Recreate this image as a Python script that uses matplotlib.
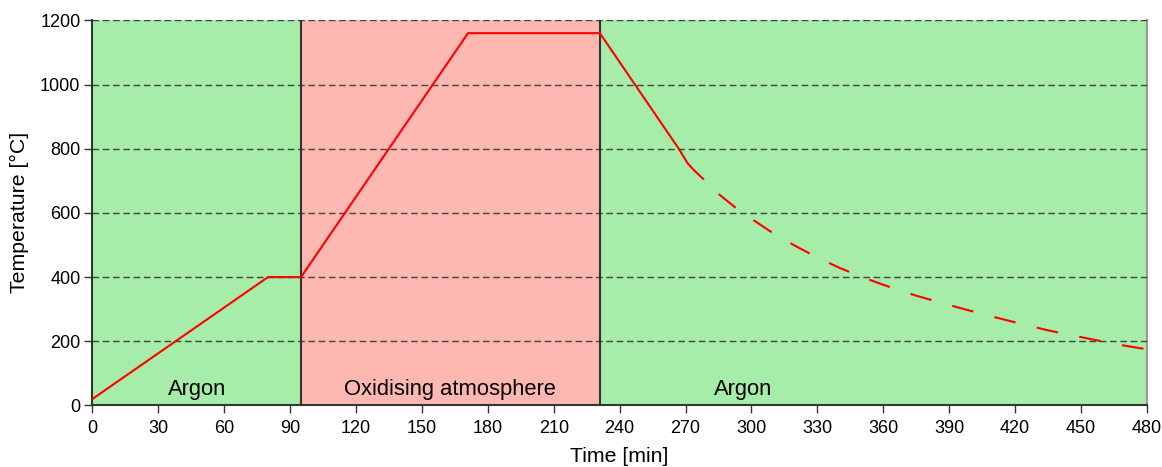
import matplotlib
matplotlib.use("Agg")
import matplotlib.pyplot as plt

plt.rcParams['font.family'] = ['Liberation Sans', 'DejaVu Sans']

# Atmosphere phases (start/end in minutes)
phase_edges = [0, 95, 231, 480]
phase_names = ["Argon", "Oxidising atmosphere", "Argon"]
phase_label_x = [47.5, 163, 296]
phase_colors = ['#a5eda8', '#ffb7b1', '#a5eda8']

# Heating program (controlled part)
ramp_time = [0, 80, 95, 171, 231, 267, 271, 274, 278]
ramp_temp = [20, 400, 400, 1160, 1160, 799, 754, 732, 706]

# Free cooling in argon
cool_time = [278, 285, 293, 301, 310, 320, 330, 340, 350, 360, 375, 390,
             405, 420, 435, 450, 465, 480]
cool_temp = [706, 659, 615, 577, 536, 497, 461, 429, 401, 376, 342, 313,
             285, 259, 234, 213, 192, 175]

x_ticks = list(range(0, 481, 30))
y_ticks = list(range(0, 1201, 200))

fig = plt.figure(figsize=(11.62, 4.67), dpi=100)
ax = fig.add_axes([0.0794, 0.1317, 0.9077, 0.8248])

for i, name in enumerate(phase_names):
    ax.axvspan(phase_edges[i], phase_edges[i + 1], color=phase_colors[i], lw=0, zorder=1)
    ax.text(phase_label_x[i], 32, name, ha='center', va='baseline', fontsize=15.8, zorder=4)

for edge in phase_edges[1:-1]:
    ax.axvline(edge, color='#333333', lw=1.5, zorder=2.6)

ax.plot(ramp_time, ramp_temp, color='red', lw=1.5, zorder=3)
# cooling curve starts with a gap, then dashes
ax.plot(cool_time, cool_temp, color='red', lw=1.5, zorder=3,
        linestyle=(10.5, (10.5, 10.4)))

ax.set_axisbelow(False)
ax.yaxis.grid(True, color='#444444', lw=1, linestyle=(0, (4.8, 2.6)))

ax.set_xlim(0, 480)
ax.set_ylim(0, 1200)
ax.set_xticks(x_ticks)
ax.set_yticks(y_ticks)
ax.tick_params(direction='out', length=5.5, width=1, color='#333333',
               labelsize=13)
ax.tick_params(axis='x', pad=5)
ax.tick_params(axis='y', pad=3)

for side in ['left', 'bottom']:
    ax.spines[side].set_color('#333333')
    ax.spines[side].set_linewidth(1.5)
ax.spines['right'].set_color('#999999')
ax.spines['right'].set_linewidth(1.5)
ax.spines['top'].set_visible(False)

ax.set_xlabel("Time [min]", fontsize=15.3, labelpad=7.5)
ax.set_ylabel("Temperature [°C]", fontsize=15.3, labelpad=8)

fig.savefig("out.png", dpi=100)
